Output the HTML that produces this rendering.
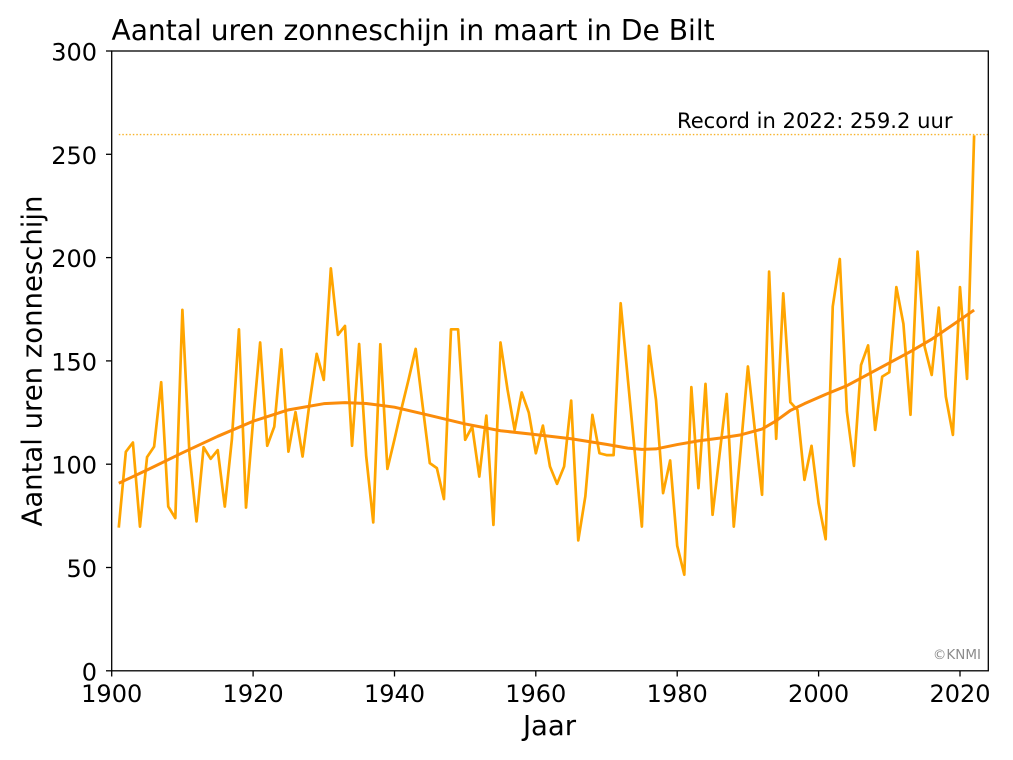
<!DOCTYPE html>
<html>
<head>
<meta charset="utf-8">
<style>
html,body{margin:0;padding:0;background:#fff;}
svg{display:block;}
text{font-family:"DejaVu Sans","Liberation Sans",sans-serif;fill:#000;}
</style>
</head>
<body>
<svg width="1013" height="760" viewBox="0 0 1013 760" xmlns="http://www.w3.org/2000/svg">
<rect x="0" y="0" width="1013" height="760" fill="#fff"/>

<!-- title -->
<text x="111.5" y="40" font-size="28.1">Aantal uren zonneschijn in maart in De Bilt</text>

<!-- record line -->
<line x1="118.8" y1="134.6" x2="988" y2="134.6" stroke="#f7b32b" stroke-width="1.4" stroke-dasharray="1.5 2"/>
<text x="677" y="128" font-size="21.1">Record in 2022: 259.2 uur</text>

<!-- data in data coordinates -->
<g transform="matrix(7.069 0 0 -2.066 -13319.4 670.8)">
<polyline fill="none" stroke="#ffa500" stroke-width="2.7" stroke-linejoin="round" vector-effect="non-scaling-stroke" points="
1901,69.3 1902,106 1903,110.5 1904,69.8 1905,103.4 1906,108.5 1907,139.7 1908,79.5 1909,73.9 1910,174.7
1911,105 1912,72.3 1913,108.2 1914,102.6 1915,106.8 1916,79.5 1917,112 1918,165.3 1919,79 1920,121
1921,158.9 1922,108.9 1923,118.2 1924,155.6 1925,106.1 1926,125.2 1927,103.7 1928,130 1929,153.4 1930,140.8
1931,194.8 1932,162.6 1933,166.9 1934,108.9 1935,158.2 1936,104 1937,71.8 1938,158.1 1939,97.7 1940,112
1941,127 1942,141 1943,155.8 1944,127.9 1945,100.5 1946,98.1 1947,83.1 1948,165.3 1949,165.3 1950,111.8
1951,118.2 1952,94 1953,123.5 1954,70.6 1955,158.9 1956,136 1957,116.6 1958,134.7 1959,125 1960,105.3
1961,118.7 1962,98.9 1963,90.5 1964,98.9 1965,130.8 1966,63.1 1967,84.4 1968,123.9 1969,105.3 1970,104.4
1971,104.4 1972,177.9 1973,141.8 1974,105.6 1975,69.8 1976,157.3 1977,131.1 1978,86 1979,101.8 1980,60.5
1981,46.5 1982,137.3 1983,88.4 1984,138.9 1985,75.5 1986,105 1987,134 1988,69.8 1989,108 1990,147.3
1991,116 1992,85.2 1993,193.2 1994,112.3 1995,182.7 1996,130 1997,126.3 1998,92.4 1999,108.9 2000,81.1
2001,63.7 2002,176.3 2003,199.3 2004,125.5 2005,99.2 2006,148 2007,157.5 2008,116.6 2009,142.4 2010,144.5
2011,185.7 2012,167.9 2013,123.9 2014,202.9 2015,156.9 2016,143.2 2017,175.8 2018,132.7 2019,114.2 2020,185.7
2021,141.3 2022,259.2"/>
<polyline fill="none" stroke="#fb8c0a" stroke-width="3" stroke-linejoin="round" vector-effect="non-scaling-stroke" points="
1901,90.8 1905,97.2 1910,105.5 1915,113.5 1920,120.8 1925,126.3 1930,129.3 1933,129.8 1936,129.4 1940,127.6
1945,123.6 1950,119.5 1955,116.2 1960,114.3 1965,112.3 1970,109.6 1973,107.8 1975,107.2 1977,107.4 1980,109.5
1983,111.3 1986,112.6 1989,114.2 1992,117 1994,121 1996,126 1998,129.3 2001,133.8 2004,138 2007,143.5
2010,149 2013,154.5 2016,160.5 2019,167.5 2022,174.6"/>
</g>

<!-- spines -->
<rect x="111.7" y="51" width="876.6" height="619.8" fill="none" stroke="#000" stroke-width="1.3"/>

<!-- y ticks -->
<g stroke="#000" stroke-width="1.3">
<line x1="106" y1="670.8" x2="111.7" y2="670.8"/>
<line x1="106" y1="567.5" x2="111.7" y2="567.5"/>
<line x1="106" y1="464.2" x2="111.7" y2="464.2"/>
<line x1="106" y1="360.9" x2="111.7" y2="360.9"/>
<line x1="106" y1="257.6" x2="111.7" y2="257.6"/>
<line x1="106" y1="154.3" x2="111.7" y2="154.3"/>
<line x1="106" y1="51" x2="111.7" y2="51"/>
</g>
<g font-size="24" text-anchor="end">
<text x="97" y="680.3">0</text>
<text x="97" y="577">50</text>
<text x="97" y="473.7">100</text>
<text x="97" y="370.4">150</text>
<text x="97" y="267.1">200</text>
<text x="97" y="163.8">250</text>
<text x="97" y="60.5">300</text>
</g>

<!-- x ticks -->
<g stroke="#000" stroke-width="1.3">
<line x1="111.7" y1="670.8" x2="111.7" y2="676.5"/>
<line x1="253.1" y1="670.8" x2="253.1" y2="676.5"/>
<line x1="394.5" y1="670.8" x2="394.5" y2="676.5"/>
<line x1="535.8" y1="670.8" x2="535.8" y2="676.5"/>
<line x1="677.2" y1="670.8" x2="677.2" y2="676.5"/>
<line x1="818.6" y1="670.8" x2="818.6" y2="676.5"/>
<line x1="960" y1="670.8" x2="960" y2="676.5"/>
</g>
<g font-size="24" text-anchor="middle">
<text x="111.7" y="702">1900</text>
<text x="253.1" y="702">1920</text>
<text x="394.5" y="702">1940</text>
<text x="535.8" y="702">1960</text>
<text x="677.2" y="702">1980</text>
<text x="818.6" y="702">2000</text>
<text x="960" y="702">2020</text>
</g>

<!-- axis labels -->
<text x="549.5" y="735" font-size="27.5" text-anchor="middle">Jaar</text>
<text transform="translate(41.5 361) rotate(-90)" font-size="27.5" text-anchor="middle">Aantal uren zonneschijn</text>

<!-- copyright -->
<text x="981" y="659" font-size="13.5" text-anchor="end" style="fill:#8c8c8c">©KNMI</text>
</svg>
</body>
</html>
